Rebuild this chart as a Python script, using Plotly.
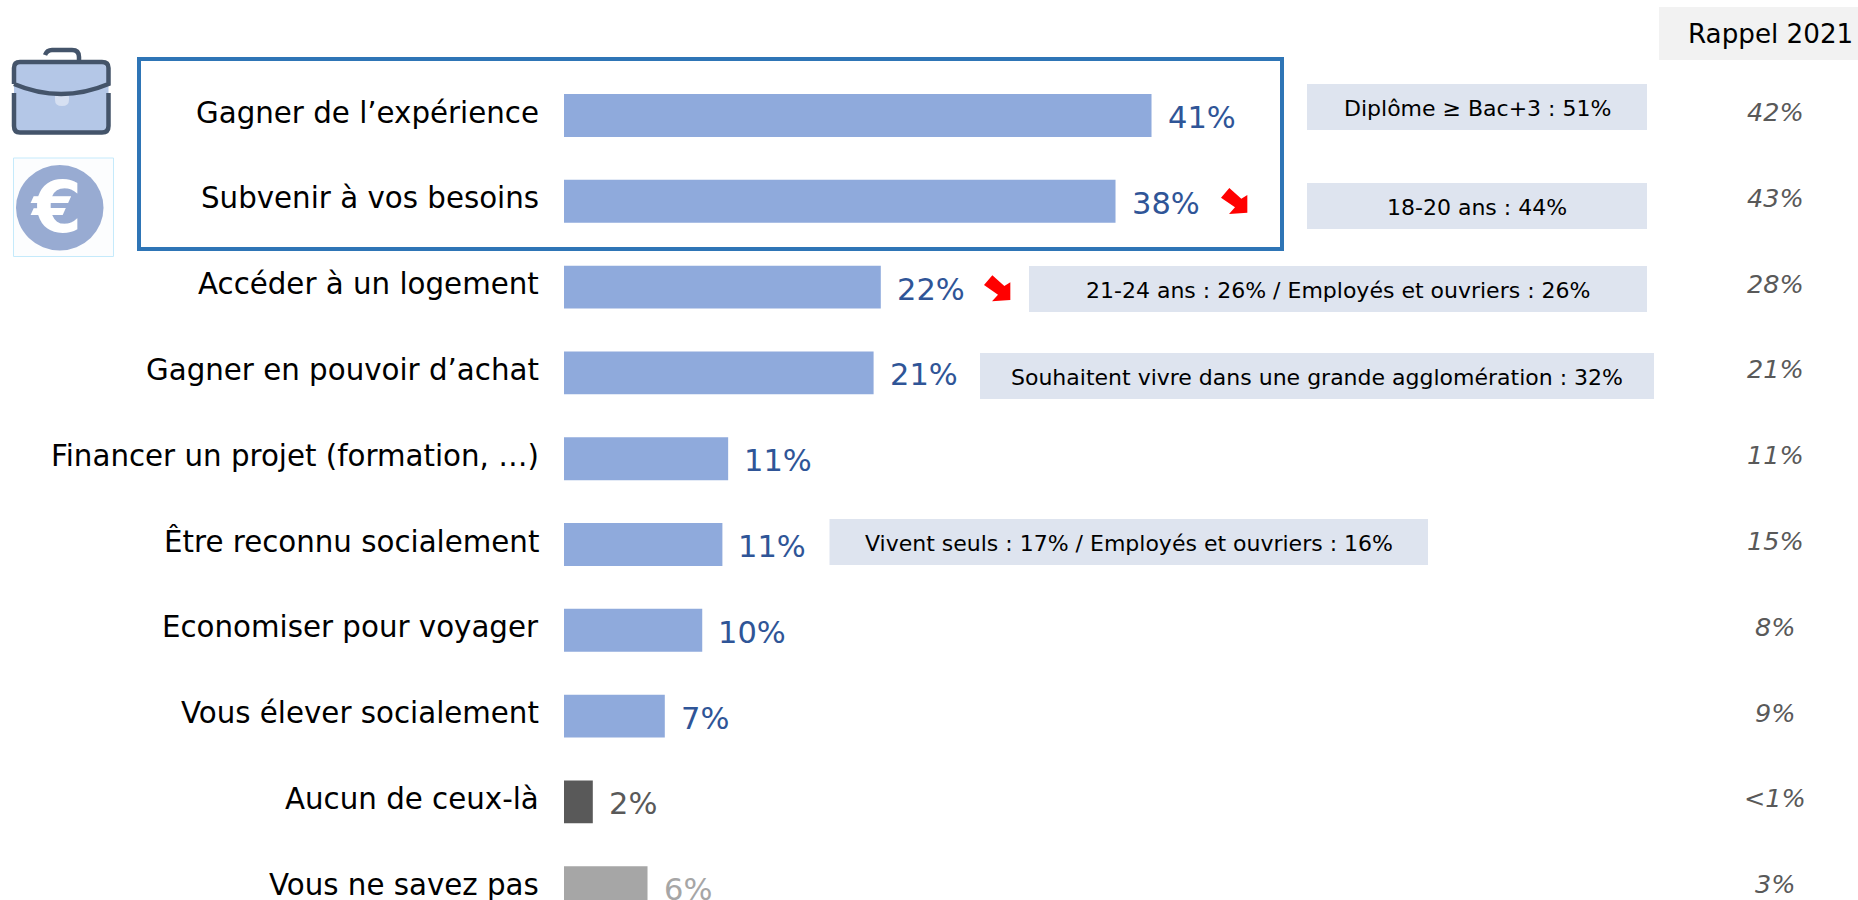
import plotly.graph_objects as go

W, H = 1858, 900
FONT = "DejaVu Sans"

categories = ["Gagner de l’expérience", "Subvenir à vos besoins", "Accéder à un logement",
              "Gagner en pouvoir d’achat", "Financer un projet (formation, …)", "Être reconnu socialement",
              "Economiser pour voyager", "Vous élever socialement", "Aucun de ceux-là", "Vous ne savez pas"]
bar_values = [40.8, 38.3, 22.0, 21.5, 11.4, 11.0, 9.6, 7.0, 2.0, 5.8]
value_labels = ["41%", "38%", "22%", "21%", "11%", "11%", "10%", "7%", "2%", "6%"]
rappel_2021 = ["42%", "43%", "28%", "21%", "11%", "15%", "8%", "9%", "<1%", "3%"]
bar_colors = ["#8FAADC"] * 8 + ["#595959", "#A6A6A6"]
label_colors = ["#2F5597"] * 8 + ["#595959", "#A6A6A6"]

callout_texts = ["Diplôme ≥ Bac+3 : 51%", "18-20 ans : 44%",
                 "21-24 ans : 26% / Employés et ouvriers : 26%",
                 "Souhaitent vivre dans une grande agglomération : 32%",
                 "Vivent seuls : 17% / Employés et ouvriers : 16%"]
callout_boxes = [(1307, 84, 1647, 130), (1307, 183, 1647, 229), (1029, 266, 1647, 312),
                 (980, 353, 1654, 399), (829.5, 519, 1428, 565)]

PX_PER_UNIT = 14.4
X0 = 564
C0, PITCH = 115.5, 85.8


def px(x):
    return x / W


def py(y):
    return 1 - y / H


def path(points, close=True):
    s = "M " + " L ".join(f"{px(x):.5f},{py(y):.5f}" for x, y in points)
    return s + (" Z" if close else "")


fig = go.Figure(go.Bar(
    y=categories, x=bar_values, orientation="h", width=0.5,
    marker=dict(color=bar_colors, line=dict(width=0)), hoverinfo="skip"))

shapes = []
annots = []
CENTER = dict(xanchor="center", yanchor="middle", showarrow=False)

# highlight frame
shapes.append(dict(type="rect", xref="paper", yref="paper", x0=px(139), x1=px(1282), y0=py(59), y1=py(249),
                   line=dict(color="#2E75B6", width=4), fillcolor="rgba(0,0,0,0)"))
# callouts
for (x0, y0, x1, y1), t in zip(callout_boxes, callout_texts):
    shapes.append(dict(type="rect", xref="paper", yref="paper", x0=px(x0), x1=px(x1), y0=py(y0), y1=py(y1),
                       line=dict(width=0), fillcolor="#DEE4EF", layer="below"))
    annots.append(dict(xref="paper", yref="paper", x=px((x0 + x1) / 2), y=py((y0 + y1) / 2), text=t, **CENTER,
                       yshift=-1, font=dict(family=FONT, size=22, color="#000000")))
# rappel header
shapes.append(dict(type="rect", xref="paper", yref="paper", x0=px(1659), x1=px(1858), y0=py(7), y1=py(60),
                   line=dict(width=0), fillcolor="#F2F2F2", layer="below"))
annots.append(dict(xref="paper", yref="paper", x=px(1770), y=py(34), text="Rappel 2021", **CENTER,
                   font=dict(family=FONT, size=26.2, color="#000000")))

for c, v, lab, col, rp in zip(categories, bar_values, value_labels, label_colors, rappel_2021):
    annots.append(dict(x=0, y=c, xref="x", yref="y", text=c, showarrow=False, xanchor="right", xshift=-23, yshift=3,
                       font=dict(family=FONT, size=29.3, color="#000000")))
    annots.append(dict(x=v, y=c, xref="x", yref="y", text=lab, showarrow=False, xanchor="left", xshift=14, yshift=-2,
                       font=dict(family=FONT, size=30.5, color=col)))
    annots.append(dict(x=px(1775), y=c, xref="paper", yref="y", text=f"<i>{rp.replace('<', '&lt;')}</i>", **CENTER,
                       yshift=3.5, font=dict(family=FONT, size=25.5, color="#595959")))

# red arrows
arrow = [(868, 114), (904, 146), (922, 135), (922, 188), (867, 192), (885, 172), (843, 143)]
for dx, dy in [(0, 0), (-237, 87.3)]:
    shapes.append(dict(type="path", xref="paper", yref="paper",
                       path=path([(940 + x / 3 + dx, 150 + y / 3 + dy) for x, y in arrow]),
                       fillcolor="#FF0000", line=dict(width=0)))

# briefcase icon
DARK = "#44546A"
SW = 4.5
shapes.append(dict(type="path", xref="paper", yref="paper", line=dict(color=DARK, width=SW), fillcolor="rgba(0,0,0,0)",
                   path=f"M {px(45)},{py(55)} Q {px(47)},{py(50)} {px(52)},{py(50)} L {px(72)},{py(50)} Q {px(79)},{py(50)} {px(79)},{py(57)} L {px(79)},{py(62)}"))
body = (f"M {px(20)},{py(62)} L {px(102)},{py(62)} Q {px(108.5)},{py(62)} {px(108.5)},{py(68)} L {px(108.5)},{py(126)} "
        f"Q {px(108.5)},{py(132.5)} {px(102)},{py(132.5)} L {px(20)},{py(132.5)} Q {px(14)},{py(132.5)} {px(14)},{py(126)} "
        f"L {px(14)},{py(68)} Q {px(14)},{py(62)} {px(20)},{py(62)} Z")
shapes.append(dict(type="path", xref="paper", yref="paper", line=dict(width=0), fillcolor="#B4C7E7", path=body))
shapes.append(dict(type="path", xref="paper", yref="paper", line=dict(width=0), fillcolor="#D6E0F2",
                   path=f"M {px(55)},{py(96)} L {px(69)},{py(96)} L {px(69)},{py(100)} Q {px(69)},{py(106)} {px(62)},{py(106)} Q {px(55)},{py(106)} {px(55)},{py(100)} Z"))
shapes.append(dict(type="path", xref="paper", yref="paper", line=dict(color=DARK, width=SW), fillcolor="rgba(0,0,0,0)",
                   path=(f"M {px(14)},{py(84)} L {px(14)},{py(68)} Q {px(14)},{py(62)} {px(20)},{py(62)} L {px(102)},{py(62)} "
                         f"Q {px(108.5)},{py(62)} {px(108.5)},{py(68)} L {px(108.5)},{py(84)} Q {px(61)},{py(104)} {px(14)},{py(84)}")))
shapes.append(dict(type="path", xref="paper", yref="paper", line=dict(color=DARK, width=SW), fillcolor="rgba(0,0,0,0)",
                   path=(f"M {px(14)},{py(93)} L {px(14)},{py(126)} Q {px(14)},{py(132.5)} {px(20)},{py(132.5)} L {px(102)},{py(132.5)} "
                         f"Q {px(108.5)},{py(132.5)} {px(108.5)},{py(126)} L {px(108.5)},{py(93)}")))

# euro icon
shapes.append(dict(type="rect", xref="paper", yref="paper", x0=px(13.5), x1=px(113.5), y0=py(158), y1=py(256.5),
                   line=dict(color="#C5EAFB", width=1), fillcolor="#FCFDFE"))
shapes.append(dict(type="circle", xref="paper", yref="paper", x0=px(16), x1=px(103.5), y0=py(165), y1=py(250.5),
                   line=dict(width=0), fillcolor="#98ABD2"))
annots.append(dict(xref="paper", yref="paper", x=px(56), y=py(207), text="<b>€</b>", **CENTER,
                   font=dict(family=FONT, size=72, color="#FFFFFF")))

fig.update_layout(
    width=W, height=H, margin=dict(l=0, r=0, t=0, b=0), showlegend=False,
    paper_bgcolor="#FFFFFF", plot_bgcolor="rgba(0,0,0,0)",
    xaxis=dict(range=[-X0 / PX_PER_UNIT, (W - X0) / PX_PER_UNIT], visible=False, fixedrange=True),
    yaxis=dict(type="category", categoryorder="array", categoryarray=categories, visible=False, fixedrange=True,
               range=[(H - C0) / PITCH, -C0 / PITCH]),
    shapes=shapes, annotations=annots, font=dict(family=FONT))

fig.write_html("out.html", config={"displayModeBar": False},
               post_script="document.body.style.margin='0';document.body.style.overflow='hidden';")
